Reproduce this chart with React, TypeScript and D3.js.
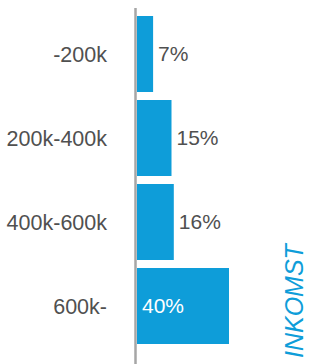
import React, { useRef, useEffect } from 'react';
import * as d3 from 'd3';

const categories = ['-200k', '200k-400k', '400k-600k', '600k-'];
const values = [7, 15, 16, 40];
const title = 'INKOMST';

const App = () => {
  const svgRef = useRef<SVGSVGElement>(null);

  useEffect(() => {
    const svg = d3.select(svgRef.current);
    svg.selectAll('*').remove();

    const width = 309;
    const height = 364;
    const blue = '#0e9dd9';
    const textColor = '#505050';
    const font = '"Liberation Sans", Arial, sans-serif';

    const x = d3.scaleLinear().domain([0, 40]).range([137, 229]);
    const y = d3.scaleBand<string>()
      .domain(categories)
      .range([12, 348])
      .paddingInner(8 / 84)
      .paddingOuter(4 / 84);

    const data = categories.map((c, i) => ({ cat: c, value: values[i] }));

    // bars
    svg.append('g')
      .selectAll('rect')
      .data(data)
      .join('rect')
      .attr('x', x(0))
      .attr('y', d => y(d.cat)!)
      .attr('width', d => x(d.value) - x(0))
      .attr('height', y.bandwidth())
      .attr('fill', blue);

    // axis line
    svg.append('line')
      .attr('x1', 135.5)
      .attr('x2', 135.5)
      .attr('y1', 8)
      .attr('y2', height)
      .attr('stroke', '#a6a6a6')
      .attr('stroke-width', 2.5);

    // category labels
    svg.append('g')
      .selectAll('text')
      .data(data)
      .join('text')
      .attr('x', 107)
      .attr('y', d => y(d.cat)! + y.bandwidth() / 2)
      .attr('dy', '0.35em')
      .attr('text-anchor', 'end')
      .style('font-family', font)
      .style('font-size', '21.5px')
      .attr('fill', textColor)
      .text(d => d.cat);

    // value labels
    const maxVal = d3.max(values)!;
    svg.append('g')
      .selectAll('text')
      .data(data)
      .join('text')
      .attr('x', d => (d.value === maxVal ? x(0) + 5 : x(d.value) + 5))
      .attr('y', d => y(d.cat)! + y.bandwidth() / 2)
      .attr('dy', '0.35em')
      .style('font-family', font)
      .style('font-size', '21px')
      .attr('fill', d => (d.value === maxVal ? '#ffffff' : textColor))
      .text(d => d.value + '%');

    // rotated title
    svg.append('text')
      .attr('transform', 'translate(303,358) rotate(-90)')
      .attr('text-anchor', 'start')
      .style('font-family', font)
      .style('font-size', '25px')
      .style('font-style', 'italic')
      .attr('fill', blue)
      .text(title);

    svg.attr('width', width).attr('height', height);
  }, []);

  return (
    <svg
      ref={svgRef}
      width={309}
      height={364}
      style={{ position: 'absolute', left: 0, top: 0, background: '#fff' }}
    />
  );
};

export default App;
